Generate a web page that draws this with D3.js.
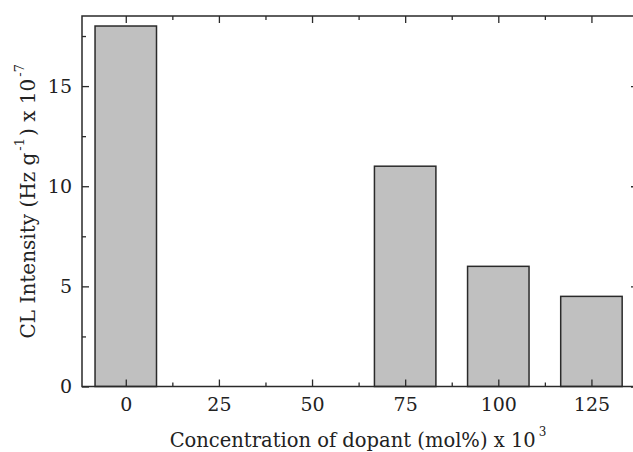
<!DOCTYPE html>
<html><head><meta charset="utf-8">
<script src="https://cdn.jsdelivr.net/npm/d3@7"></script>
<style>body{margin:0;background:#fff}svg{display:block}</style>
</head><body>
<svg id="c" width="633" height="452"></svg>
<script>
const categories = [0, 25, 50, 75, 100, 125];
const values = [18, 0, 0, 11, 6, 4.5];
const xTicks = [0, 25, 50, 75, 100, 125];
const xMinor = [12.5, 37.5, 62.5, 87.5, 112.5, 137.5];
const yTicks = [0, 5, 10, 15];
const yMinor = [2.5, 7.5, 12.5, 17.5];
const xTitle = "Concentration of dopant (mol%) x 10";
const xTitleSup = "3";

const svg = d3.select("#c");
const font = "'DejaVu Serif', serif";
const stroke = "#2a2a2a";
const L = 82, R = 638, T = 16, B = 386.5;
const x = d3.scaleLinear().domain([-11.75, 137.5]).range([L, R]);
const y = d3.scaleLinear().domain([0, 18.5]).range([B, T]);
const bw = 16.5;

// bars
svg.append("g").selectAll("rect")
  .data(categories.map((c, i) => ({c, v: values[i]})).filter(d => d.v > 0))
  .join("rect")
  .attr("x", d => x(d.c - bw / 2))
  .attr("width", d => x(d.c + bw / 2) - x(d.c - bw / 2))
  .attr("y", d => y(d.v))
  .attr("height", d => y(0) - y(d.v))
  .attr("fill", "#c0c0c0")
  .attr("stroke", stroke)
  .attr("stroke-width", 1.5);

// axes
const tickStyle = g => {
  g.select(".domain").remove();
  g.selectAll(".tick line").attr("stroke", stroke).attr("stroke-width", 1.3);
  g.selectAll("text").attr("font-family", font).attr("font-size", 19).attr("fill", "#222");
};
svg.append("g").attr("transform", `translate(0,${B})`)
  .call(d3.axisBottom(x).tickValues(xTicks).tickSize(-7).tickPadding(11).tickFormat(d3.format("d")))
  .call(tickStyle);
svg.append("g").attr("transform", `translate(0,${B})`)
  .call(d3.axisBottom(x).tickValues(xMinor).tickSize(-4).tickFormat(""))
  .call(tickStyle);
svg.append("g").attr("transform", `translate(0,${T})`)
  .call(d3.axisTop(x).tickValues(xTicks).tickSize(-7).tickFormat(""))
  .call(tickStyle);
svg.append("g").attr("transform", `translate(0,${T})`)
  .call(d3.axisTop(x).tickValues(xMinor).tickSize(-4).tickFormat(""))
  .call(tickStyle);
svg.append("g").attr("transform", `translate(${L},0)`)
  .call(d3.axisLeft(y).tickValues(yTicks).tickSize(-7).tickPadding(10).tickFormat(d3.format("d")))
  .call(tickStyle);
svg.append("g").attr("transform", `translate(${L},0)`)
  .call(d3.axisLeft(y).tickValues(yMinor).tickSize(-4).tickFormat(""))
  .call(tickStyle);
svg.append("g").attr("transform", `translate(${R},0)`)
  .call(d3.axisRight(y).tickValues(yTicks).tickSize(-7).tickFormat(""))
  .call(tickStyle);
svg.append("g").attr("transform", `translate(${R},0)`)
  .call(d3.axisRight(y).tickValues(yMinor).tickSize(-4).tickFormat(""))
  .call(tickStyle);

// frame
svg.append("rect").attr("x", L).attr("y", T).attr("width", R - L).attr("height", B - T)
  .attr("fill", "none").attr("stroke", stroke).attr("stroke-width", 1.5);

// x title
const xt = svg.append("text").attr("x", 358).attr("y", 447)
  .attr("text-anchor", "middle").attr("font-family", font).attr("font-size", 19.5).attr("fill", "#222");
xt.append("tspan").text(xTitle);
xt.append("tspan").attr("dx", 3).attr("dy", -11).attr("font-size", 12).text(xTitleSup);

// y title
const yt = svg.append("text").attr("transform", `translate(35,${(T + B) / 2}) rotate(-90)`)
  .attr("text-anchor", "middle").attr("font-family", font).attr("font-size", 20).attr("fill", "#222");
yt.append("tspan").text("CL Intensity (Hz g");
yt.append("tspan").attr("dx", 2).attr("dy", -11).attr("font-size", 13).text("-1");
yt.append("tspan").attr("dx", 2).attr("dy", 11).text(") x 10");
yt.append("tspan").attr("dx", 2).attr("dy", -11).attr("font-size", 13).text("-7");
</script>
</body></html>
